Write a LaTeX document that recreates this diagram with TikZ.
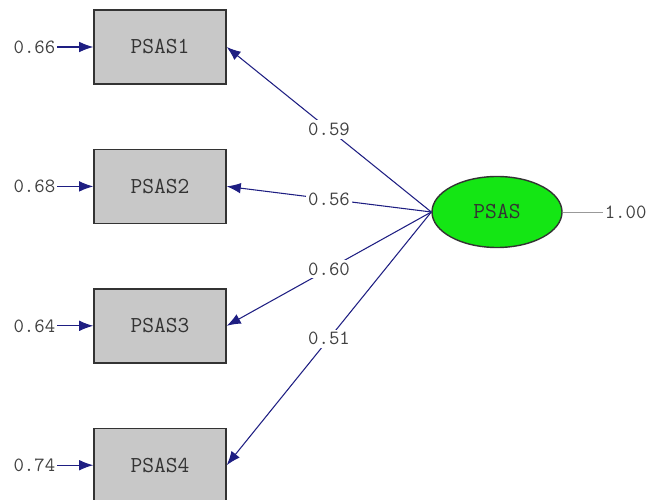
\documentclass[tikz,border=0pt]{standalone}
\usetikzlibrary{shapes.geometric, arrows.meta, positioning}

\definecolor{pathblue}{RGB}{30,30,130}
\definecolor{boxgray}{RGB}{200,200,200}
\definecolor{latentgreen}{RGB}{20,230,20}

\begin{document}
\begin{tikzpicture}[
    node distance=1.28cm,
    indicator/.style={rectangle, draw=black!80, fill=boxgray, thick, minimum width=2.64cm, minimum height=1.48cm, font=\ttfamily\fontsize{13}{15}\selectfont, text=black!80},
    latent/.style={ellipse, draw=black!80, fill=latentgreen, thick, minimum width=2.6cm, minimum height=1.42cm, font=\ttfamily\fontsize{13}{15}\selectfont, text=black!80},
    errval/.style={font=\ttfamily\fontsize{11.5}{13}\selectfont, text=black!75, inner sep=1pt},
    loading/.style={font=\ttfamily\fontsize{11.5}{13}\selectfont, text=black!75, fill=white, inner sep=1.5pt},
    arrow/.style={-{Latex[length=8pt,width=6pt]}, color=pathblue, semithick}
]
    \useasboundingbox (0,0) rectangle (13.02,-10);

    % Observed indicators
    \node (P1) [indicator] at (3.2,-0.94) {PSAS1};
    \node (P2) [indicator, below=of P1] {PSAS2};
    \node (P3) [indicator, below=of P2] {PSAS3};
    \node (P4) [indicator, below=of P3] {PSAS4};

    % Latent factor
    \node (S) [latent] at (9.94,-4.24) {PSAS};
    \node (Svar) [errval, right=0.8cm of S] {1.00};
    \draw [color=black!40] (S.east) -- (Svar.west);

    % Error variances
    \node (e1) [errval, left=0.72cm of P1] {0.66};
    \node (e2) [errval, left=0.72cm of P2] {0.68};
    \node (e3) [errval, left=0.72cm of P3] {0.64};
    \node (e4) [errval, left=0.72cm of P4] {0.74};

    \draw [arrow] (e1) -- (P1);
    \draw [arrow] (e2) -- (P2);
    \draw [arrow] (e3) -- (P3);
    \draw [arrow] (e4) -- (P4);

    % Factor loadings
    \draw [arrow] (S.west) -- node [loading] {0.59} (P1.east);
    \draw [arrow] (S.west) -- node [loading] {0.56} (P2.east);
    \draw [arrow] (S.west) -- node [loading] {0.60} (P3.east);
    \draw [arrow] (S.west) -- node [loading] {0.51} (P4.east);

\end{tikzpicture}
\end{document}
